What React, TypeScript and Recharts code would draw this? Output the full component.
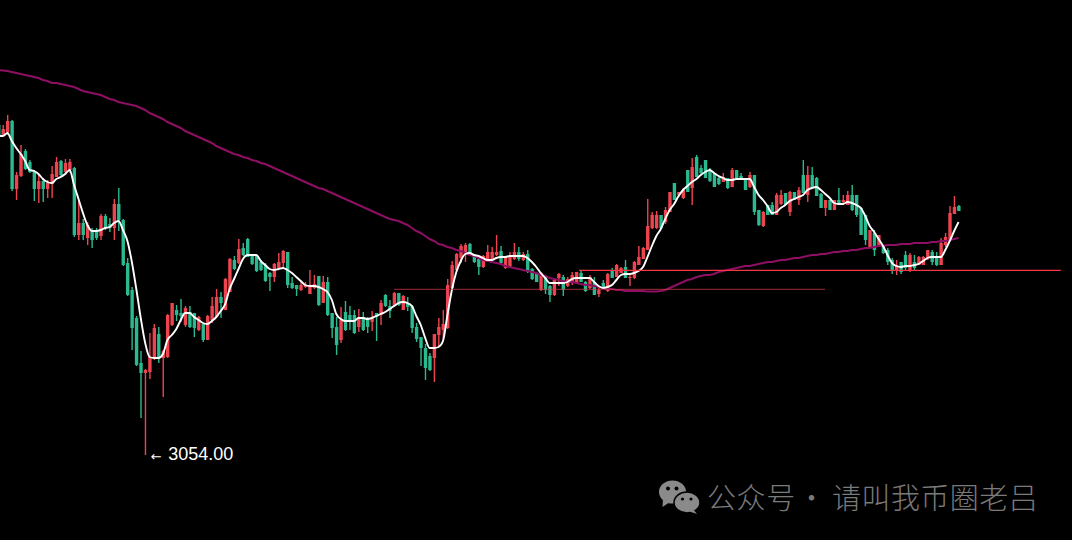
import React from "react";
import { ComposedChart, Bar, Line, XAxis, YAxis, ReferenceLine, ReferenceDot } from "recharts";

const highs = [3384,3384,3394,3389,3337,3364,3360,3349,3339,3334,3331,3329,3343,3352,3349,3350,3350,3342,3308,3290,3287,3281,3281,3295,3295,3291,3310,3321,3290,3251,3222,3193,3158,3140,3176,3185,3182,3159,3195,3206,3204,3210,3203,3203,3196,3193,3186,3194,3212,3220,3217,3231,3251,3253,3270,3266,3271,3254,3254,3249,3246,3237,3246,3256,3259,3257,3232,3224,3228,3227,3239,3234,3233,3233,3232,3196,3192,3202,3208,3203,3199,3200,3197,3192,3198,3196,3209,3215,3209,3217,3216,3214,3212,3204,3186,3172,3165,3156,3175,3191,3199,3230,3248,3256,3265,3266,3266,3254,3252,3254,3264,3262,3274,3263,3253,3257,3266,3262,3257,3259,3241,3237,3237,3234,3224,3231,3236,3234,3232,3237,3237,3239,3228,3234,3232,3223,3229,3236,3241,3245,3242,3249,3234,3248,3263,3262,3310,3297,3298,3294,3302,3317,3326,3317,3321,3339,3351,3354,3344,3349,3341,3336,3332,3336,3331,3341,3339,3336,3331,3337,3334,3299,3298,3304,3307,3316,3319,3316,3318,3317,3322,3349,3343,3342,3332,3316,3309,3309,3309,3321,3314,3318,3324,3314,3302,3294,3279,3279,3274,3264,3261,3251,3249,3247,3258,3256,3254,3253,3253,3259,3259,3257,3271,3276,3303,3313,3304];
const lows = [3373,3373,3374,3318,3309,3332,3339,3336,3308,3306,3307,3311,3311,3332,3333,3334,3336,3272,3269,3269,3264,3261,3269,3269,3279,3277,3269,3278,3243,3213,3159,3143,3091,3054,3130,3149,3146,3112,3151,3183,3188,3187,3182,3181,3172,3178,3167,3169,3186,3192,3191,3199,3217,3239,3245,3253,3252,3244,3237,3238,3227,3218,3227,3240,3241,3221,3220,3213,3218,3221,3215,3220,3203,3206,3193,3171,3154,3166,3178,3179,3175,3177,3178,3176,3178,3168,3184,3202,3191,3203,3203,3199,3198,3176,3167,3143,3129,3138,3127,3162,3169,3180,3220,3238,3246,3247,3254,3246,3234,3241,3249,3249,3253,3245,3240,3242,3249,3248,3248,3236,3229,3227,3218,3215,3207,3213,3223,3213,3222,3224,3226,3227,3217,3220,3214,3212,3220,3217,3231,3232,3236,3231,3223,3230,3244,3250,3259,3280,3280,3280,3285,3297,3309,3312,3310,3317,3304,3332,3335,3331,3327,3322,3324,3327,3320,3322,3329,3329,3319,3321,3294,3283,3282,3294,3294,3294,3304,3304,3293,3309,3304,3316,3307,3321,3313,3301,3293,3299,3299,3304,3304,3304,3298,3292,3274,3264,3262,3253,3264,3255,3244,3235,3234,3235,3239,3237,3239,3244,3244,3249,3244,3243,3244,3262,3269,3295,3298];
const opens = [3384,3374,3377,3388,3320,3333,3358,3347,3337,3320,3328,3320,3325,3332,3348,3337,3339,3341,3274,3286,3271,3278,3279,3273,3293,3285,3281,3305,3289,3246,3219,3191,3146,3136,3137,3151,3175,3151,3152,3184,3199,3196,3184,3197,3196,3179,3185,3169,3189,3192,3212,3199,3217,3249,3246,3261,3270,3253,3253,3247,3244,3236,3232,3241,3246,3257,3226,3224,3219,3222,3215,3221,3233,3206,3227,3196,3182,3169,3197,3194,3194,3182,3192,3191,3187,3196,3194,3214,3203,3203,3216,3199,3206,3203,3182,3172,3161,3153,3151,3174,3179,3181,3221,3239,3251,3256,3265,3253,3250,3242,3250,3250,3254,3258,3241,3242,3250,3257,3249,3255,3240,3236,3219,3232,3223,3214,3231,3232,3223,3226,3226,3236,3227,3221,3227,3215,3226,3218,3238,3232,3236,3242,3231,3231,3244,3250,3259,3281,3281,3294,3287,3297,3326,3314,3311,3339,3321,3352,3341,3349,3339,3336,3331,3327,3331,3322,3339,3333,3331,3322,3334,3299,3283,3304,3304,3294,3305,3316,3297,3317,3309,3334,3314,3334,3331,3315,3301,3309,3299,3309,3307,3304,3314,3314,3301,3294,3262,3276,3264,3264,3259,3249,3239,3247,3254,3239,3247,3244,3244,3251,3257,3253,3244,3264,3269,3295,3303];
const closes = [3374,3380,3388,3320,3334,3355,3340,3337,3320,3328,3320,3326,3335,3347,3334,3346,3347,3274,3286,3274,3284,3269,3271,3293,3281,3281,3305,3289,3244,3214,3181,3144,3136,3139,3152,3181,3151,3158,3194,3206,3194,3193,3201,3182,3181,3192,3169,3193,3203,3212,3206,3230,3250,3240,3260,3254,3252,3245,3238,3239,3228,3232,3245,3247,3258,3224,3221,3220,3224,3224,3224,3225,3204,3227,3194,3181,3164,3189,3179,3187,3176,3192,3179,3182,3191,3192,3206,3203,3198,3216,3204,3213,3202,3181,3170,3161,3141,3139,3175,3182,3185,3224,3244,3255,3263,3264,3256,3247,3242,3253,3257,3257,3257,3246,3252,3252,3257,3250,3255,3237,3230,3227,3236,3219,3214,3229,3235,3219,3230,3234,3237,3227,3218,3232,3214,3219,3221,3235,3231,3244,3241,3231,3232,3247,3252,3261,3283,3294,3294,3281,3299,3317,3309,3317,3319,3317,3342,3332,3336,3331,3328,3322,3325,3332,3321,3339,3329,3329,3319,3334,3297,3284,3297,3294,3294,3314,3314,3304,3317,3309,3319,3316,3334,3321,3313,3301,3309,3299,3309,3304,3309,3314,3299,3294,3274,3269,3279,3259,3274,3256,3247,3239,3244,3237,3241,3254,3241,3252,3252,3259,3247,3244,3266,3272,3296,3302,3298];
const fastAverage = [3373,3373,3376,3368,3361,3355,3348,3339,3338,3335,3330,3327,3326,3330,3332,3335,3339,3324,3310,3296,3284,3278,3278,3279,3281,3282,3286,3288,3279,3268,3247,3220,3191,3166,3152,3151,3151,3155,3169,3174,3180,3189,3196,3196,3192,3189,3186,3185,3188,3192,3198,3205,3220,3230,3240,3250,3254,3254,3254,3248,3244,3240,3239,3240,3241,3239,3236,3232,3228,3224,3223,3223,3222,3220,3217,3209,3195,3190,3188,3188,3188,3191,3191,3190,3191,3193,3195,3197,3200,3203,3206,3207,3206,3203,3193,3184,3171,3161,3161,3162,3168,3194,3219,3237,3248,3255,3256,3254,3253,3251,3249,3249,3251,3252,3252,3253,3253,3253,3253,3251,3247,3242,3236,3231,3226,3226,3226,3226,3227,3230,3231,3231,3231,3231,3227,3223,3221,3222,3224,3229,3234,3235,3235,3236,3238,3242,3252,3263,3273,3280,3290,3299,3305,3313,3319,3323,3327,3330,3334,3337,3339,3336,3333,3331,3329,3329,3330,3330,3330,3330,3322,3314,3309,3303,3296,3297,3301,3304,3308,3310,3312,3314,3319,3321,3322,3319,3315,3311,3306,3305,3305,3307,3306,3304,3301,3293,3283,3277,3270,3263,3254,3246,3243,3242,3243,3243,3244,3245,3248,3251,3252,3252,3252,3259,3268,3278,3287];
const slowAverage = [3439,3438.5,3438,3437,3436,3435,3434,3433,3432,3431,3429,3428,3426,3426,3425,3424,3423,3422,3420,3418,3417,3416,3415,3414,3412,3410,3409,3407,3406,3405,3404,3403,3401,3399,3396,3394,3392,3390,3387,3385,3383,3381,3378,3376,3374,3372,3370,3368,3366,3363,3361,3359,3357,3355,3354,3352,3351,3349,3348,3346,3345,3343,3341,3339,3337,3335,3333,3331,3329,3327,3325,3323,3321,3320,3318,3316,3314,3312,3310,3308,3306,3304,3302,3300,3298,3296,3294,3292,3290,3289,3288,3286,3284,3281,3278,3276,3273,3270,3268,3265,3264,3262,3261,3259,3258,3256,3254,3253,3251,3249,3248,3247,3246,3245,3243,3242,3241,3240,3239,3238,3237,3236,3234,3233,3231,3230,3229,3228,3227,3227,3226,3225,3224,3224,3223,3222,3221,3220,3220,3219,3219,3218,3218,3218,3218,3218,3217.5,3217.5,3217.5,3218,3219,3221,3223,3225,3227,3229,3230,3232,3233,3234,3234,3235,3237,3238,3239,3240,3241,3242,3243,3243,3244,3245,3246,3247,3247,3248,3249,3249,3250,3251,3251,3252,3253,3254,3254,3255,3255,3256,3257,3257,3258,3258,3259,3259,3260,3261,3261,3262,3263,3263,3264,3264,3264,3265,3265,3265,3266,3266,3266,3266,3267,3267,3268,3268,3269,3270,3271];
const lowLabel = "3054.00";
const lowIndex = 33;
const lowPrice = 3054;
const upperSupport = [{ x: 130.6, y: 3238.7 }, { x: 239.0, y: 3238.7 }];
const lowerSupport = [{ x: 88.98, y: 3219.7 }, { x: 185.94, y: 3219.7 }];
const watermarkTitle = "公众号";
const watermarkDot = "·";
const watermarkName = "请叫我币圈老吕";

const rows = highs.map((high, i) => ({
  i,
  high,
  low: lows[i],
  open: opens[i],
  close: closes[i],
  fast: fastAverage[i],
  slow: slowAverage[i],
}));

const UP = "#ee4450";
const DOWN = "#2bb98f";

function Candle(props: any) {
  const { x, y, width, height, payload } = props;
  const cx = x + width / 2;
  const { high, low, open, close } = payload;
  const perUnit = height / (high - low || 1);
  const top = y + (high - Math.max(open, close)) * perUnit;
  const bottom = y + (high - Math.min(open, close)) * perUnit;
  const color = close >= open ? UP : DOWN;
  return (
    <g>
      <rect x={cx - 0.7} y={y} width={1.4} height={height} fill={color} />
      <rect x={cx - 1.7} y={top} width={3.4} height={Math.max(bottom - top, 1)} fill={color} />
    </g>
  );
}

function LowLabel(props: any) {
  const { x, y } = props.viewBox;
  return (
    <g fill="#ffffff">
      <text x={x + 5.5} y={y + 6} fontSize={13} fontFamily="'DejaVu Sans', sans-serif">←</text>
      <text x={x + 23} y={y + 5} fontSize={18} fontFamily="'Liberation Sans', Arial, sans-serif">{lowLabel}</text>
    </g>
  );
}

const markStyle = {
  position: "absolute" as const,
  top: 478,
  fontFamily: "'Noto Sans CJK SC', sans-serif",
  fontSize: 29,
  fontWeight: 300,
  lineHeight: "36px",
  color: "#7a7a7a",
  whiteSpace: "nowrap" as const,
};

export default function App() {
  return (
    <div style={{ position: "fixed", left: 0, top: 0, width: 1072, height: 540, background: "#000", overflow: "hidden" }}>
      <ComposedChart width={1072} height={540} data={rows} margin={{ top: 0, right: 0, bottom: 0, left: 0 }}>
        <XAxis dataKey="i" type="number" domain={[0.337, 241.51]} hide allowDataOverflow />
        <YAxis type="number" domain={[2969, 3509]} hide allowDataOverflow />
        <Bar dataKey={(d: any) => [d.low, d.high]} barSize={3} shape={<Candle />} isAnimationActive={false} />
        <Line dataKey="slow" type="linear" stroke="#8e0f63" strokeWidth={2} dot={false} activeDot={false} isAnimationActive={false} />
        <Line dataKey="fast" type="monotone" stroke="#ffffff" strokeWidth={1.9} dot={false} activeDot={false} isAnimationActive={false} />
        <ReferenceLine segment={upperSupport} stroke="#f23645" strokeWidth={1.2} />
        <ReferenceLine segment={lowerSupport} stroke="#c8384a" strokeWidth={0.8} />
        <ReferenceDot x={lowIndex} y={lowPrice} r={0} fill="none" stroke="none" label={<LowLabel />} />
      </ComposedChart>
      <svg width={46} height={36} style={{ position: "absolute", left: 656, top: 479 }}>
        <g fill="#8a8a8a">
          <ellipse cx={16.5} cy={13} rx={13.5} ry={11.5} />
          <path d="M7 20 L6.5 28 L14 23 Z" />
          <ellipse cx={31} cy={23.5} rx={13} ry={10.5} stroke="#000" strokeWidth={1.5} />
          <path d="M37 30 L41 35 L32 32 Z" />
        </g>
        <g fill="#000">
          <circle cx={12} cy={9.5} r={2} />
          <circle cx={20.5} cy={9.5} r={2} />
          <circle cx={26.5} cy={20} r={1.6} />
          <circle cx={35} cy={20} r={1.6} />
        </g>
      </svg>
      <div style={{ ...markStyle, left: 707, letterSpacing: 0.6 }}>{watermarkTitle}</div>
      <div style={{ ...markStyle, left: 797 }}>{watermarkDot}</div>
      <div style={{ ...markStyle, left: 832, letterSpacing: 0.45 }}>{watermarkName}</div>
    </div>
  );
}
